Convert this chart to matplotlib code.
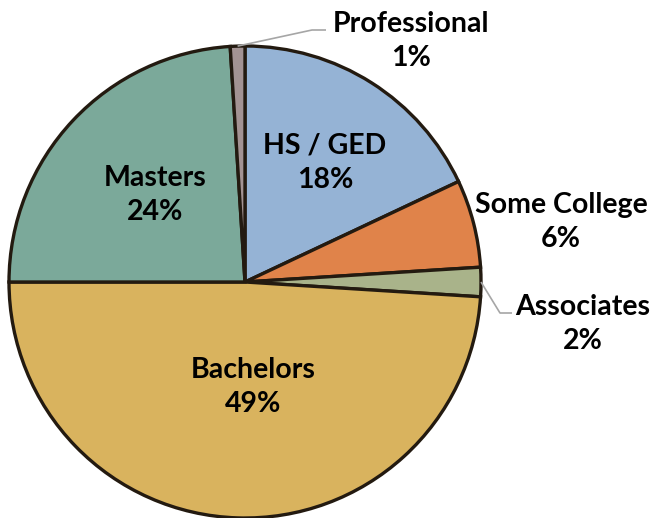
import matplotlib
matplotlib.use("Agg")
import matplotlib.pyplot as plt
import numpy as np

categories = ["HS / GED", "Some College", "Associates", "Bachelors", "Masters", "Professional"]
values = [18, 6, 2, 49, 24, 1]
colors = ["#95B3D5", "#E0834A", "#A9B38A", "#D9B35E", "#7BA99A", "#A39393"]

W, H = 656, 518
cx, cy, R = 245, 282, 236  # pixel layout of the pie

fig = plt.figure(figsize=(W / 100, H / 100), dpi=100)
ax = fig.add_axes([0, 0, 1, 1])

wedges, _ = ax.pie(values, colors=colors, startangle=90, counterclock=False, radius=1,
                   wedgeprops=dict(edgecolor="#231A10", linewidth=2.4))

ax.set_xlim(-cx / R, (W - cx) / R)
ax.set_ylim(-(H - cy) / R, cy / R)
ax.set_aspect("equal")
ax.axis("off")

def px(x, y):
    return ((x - cx) / R, (cy - y) / R)

# label placement (pixel positions of label centers)
label_pos = {
    "HS / GED": (325, 163),
    "Some College": (561, 222),
    "Associates": (583, 324),
    "Bachelors": (253, 387),
    "Masters": (155, 195),
    "Professional": (411, 41),
}

for cat, v in zip(categories, values):
    x, y = px(*label_pos[cat])
    ax.text(x, y, f"{cat}\n{v}%", ha="center", va="center", fontsize=20.5,
            fontweight="bold", family="Lato", linespacing=1.4, color="black")

# leader lines
def leader(idx, pts):
    cum = np.cumsum([0] + values)
    mid = 90 - (cum[idx] + values[idx] / 2) / sum(values) * 360
    sx, sy = np.cos(np.radians(mid)), np.sin(np.radians(mid))
    xs = [sx] + [px(*p)[0] for p in pts]
    ys = [sy] + [px(*p)[1] for p in pts]
    ax.plot(xs, ys, color="#A6A6A6", lw=1.2, solid_capstyle="butt")

leader(categories.index("Professional"), [(312, 30), (326, 30)])
leader(categories.index("Associates"), [(500, 313), (512, 313)])

fig.savefig("out.png", dpi=100)
